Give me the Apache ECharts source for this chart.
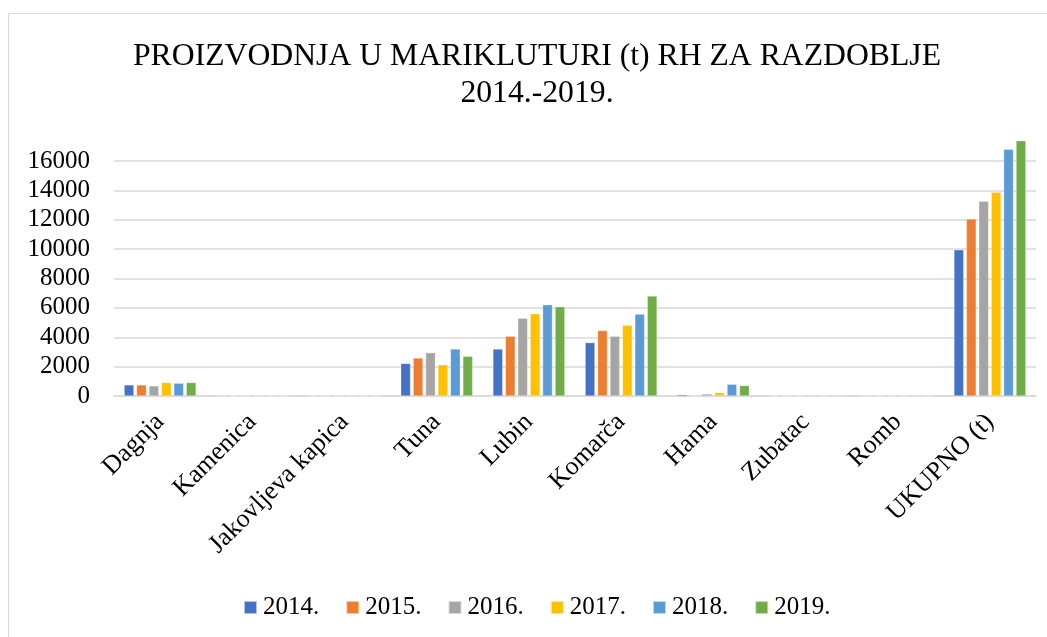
<!DOCTYPE html>
<html>
<head>
<meta charset="utf-8">
<script src="https://cdn.jsdelivr.net/npm/echarts@6/dist/echarts.min.js"></script>
<style>
html, body { margin: 0; padding: 0; background: #fff; }
#chart { width: 1047px; height: 637px; }
</style>
</head>
<body>
<div id="chart"></div>
<script>
// kategorije i godine
const categories = ['Dagnja', 'Kamenica', 'Jakovljeva kapica', 'Tuna', 'Lubin', 'Komarča', 'Hama', 'Zubatac', 'Romb', 'UKUPNO (t)'];
const years = ['2014.', '2015.', '2016.', '2017.', '2018.', '2019.'];
const colors = ['#4472c4', '#ed7d31', '#a5a5a5', '#ffc000', '#5b9bd5', '#70ad47'];

// proizvodnja (t) po godinama
const y2014 = [755, 0, 0, 2215, 3200, 3635, 90, 0, 0, 9950];
const y2015 = [755, 20, 20, 2585, 4070, 4460, 40, 20, 20, 12050];
const y2016 = [690, 20, 20, 2950, 5300, 4070, 140, 15, 15, 13260];
const y2017 = [915, 15, 15, 2125, 5600, 4820, 230, 0, 0, 13880];
const y2018 = [870, 15, 15, 3200, 6220, 5575, 800, 0, 0, 16800];
const y2019 = [915, 15, 15, 2700, 6080, 6810, 710, 0, 0, 17375];
const seriesValues = [y2014, y2015, y2016, y2017, y2018, y2019];

const font = 'Liberation Serif, Times New Roman, serif';

const chart = echarts.init(document.getElementById('chart'));
const option = {
    animation: false,
    color: colors,
    title: {
        text: 'PROIZVODNJA U MARIKLUTURI (t) RH ZA RAZDOBLJE\n2014.-2019.',
        left: 532,
        textAlign: 'center',
        top: 33,
        textStyle: {
            fontFamily: font,
            fontWeight: 'normal',
            fontSize: 31.7,
            lineHeight: 37,
            color: '#000'
        }
    },
    legend: {
        data: years,
        top: 590,
        left: 238,
        itemWidth: 13,
        itemHeight: 13,
        itemGap: 26,
        icon: 'rect',
        textStyle: { fontFamily: font, fontSize: 25, color: '#000', padding: [0, 0, 0, 1] }
    },
    grid: {
        left: 114,
        right: 11,
        top: 161,
        bottom: 241
    },
    xAxis: {
        type: 'category',
        data: categories,
        axisTick: { show: false },
        axisLine: { lineStyle: { color: '#d9d9d9', width: 1.5 } },
        axisLabel: {
            rotate: 45,
            interval: 0,
            margin: 22,
            fontFamily: font,
            fontSize: 26,
            color: '#000'
        }
    },
    yAxis: {
        type: 'value',
        min: 0,
        max: 16000,
        interval: 2000,
        axisLine: { show: false },
        axisTick: { show: false },
        splitLine: { lineStyle: { color: '#d9d9d9', width: 1.5 } },
        axisLabel: {
            margin: 24,
            formatter: v => String(v),
            fontFamily: font,
            fontSize: 25,
            color: '#000'
        }
    },
    graphic: [{
        type: 'rect',
        shape: { x: 8.5, y: 13.5, width: 1100, height: 700 },
        style: { fill: 'none', stroke: '#d9d9d9', lineWidth: 1 },
        silent: true
    }],
    series: years.map((name, i) => ({
        name: name,
        type: 'bar',
        data: seriesValues[i],
        clip: false,
        barGap: '27%',
        barCategoryGap: '22%',
        itemStyle: { borderColor: 'rgba(255,255,255,0.6)', borderWidth: 0.5 }
    }))
};
chart.setOption(option);
</script>
</body>
</html>
